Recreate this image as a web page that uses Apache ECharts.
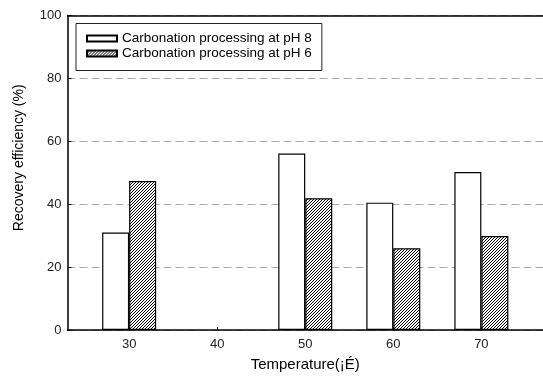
<!DOCTYPE html>
<html>
<head>
<meta charset="utf-8">
<script src="https://cdn.jsdelivr.net/npm/echarts@6/dist/echarts.min.js"></script>
<style>
  html, body { margin: 0; padding: 0; background: #fff; }
  #chart { width: 543px; height: 377px; }
</style>
</head>
<body>
<div id="chart"></div>
<script>
// temperatures on the x axis
const temps = [30, 40, 50, 60, 70];
// recovery efficiency (%), null = no bar
const ph8 = [31.0, null, 56.1, 40.5, 50.2];
const ph6 = [47.4, null, 41.9, 26.0, 29.9];
const yTicks = [0, 20, 40, 60, 80, 100];
const seriesNames = ['Carbonation processing at pH 8', 'Carbonation processing at pH 6'];

const font = 'Liberation Sans, Arial, sans-serif';

// diagonal hatch ////
function hatch() {
    const s = 3;
    const c = document.createElement('canvas');
    c.width = s; c.height = s;
    const ctx = c.getContext('2d');
    ctx.fillStyle = '#fff';
    ctx.fillRect(0, 0, s, s);
    ctx.strokeStyle = '#000';
    ctx.lineWidth = 1;
    ctx.beginPath();
    ctx.moveTo(-1, 1); ctx.lineTo(1, -1);
    ctx.moveTo(0, s); ctx.lineTo(s, 0);
    ctx.moveTo(s - 1, s + 1); ctx.lineTo(s + 1, s - 1);
    ctx.stroke();
    return c;
}

function pairs(vals) {
    const out = [];
    temps.forEach((t, i) => { if (vals[i] != null) out.push([t, vals[i]]); });
    return out;
}

const chart = echarts.init(document.getElementById('chart'));
chart.setOption({
    animation: false,
    grid: { left: 67.5, right: 0, top: 15.5, bottom: 43 },
    legend: {
        left: 76, top: 23.5,
        orient: 'vertical',
        backgroundColor: '#fff',
        borderColor: '#222', borderWidth: 1,
        padding: [8, 10, 10, 10],
        itemWidth: 30, itemHeight: 6, itemGap: 1,
        icon: 'rect',
        textStyle: { fontFamily: font, fontSize: 13.5, color: '#000', lineHeight: 14 },
        data: seriesNames
    },
    xAxis: [{
        type: 'value',
        min: 23, max: 77,
        name: 'Temperature(¡É)',
        nameLocation: 'middle',
        nameGap: 27,
        nameTextStyle: { fontFamily: font, fontSize: 15, color: '#000' },
        axisLine: { lineStyle: { color: '#000', width: 1.5 } },
        axisTick: { inside: true, length: 3, customValues: temps, lineStyle: { color: '#000' } },
        axisLabel: { customValues: temps, fontFamily: font, fontSize: 13, color: '#222', margin: 8 },
        splitLine: { show: false }
    }, {
        type: 'value',
        position: 'top',
        min: 23, max: 77,
        axisLine: { show: true, lineStyle: { color: '#000', width: 1.5 } },
        axisTick: { show: false },
        axisLabel: { show: false },
        splitLine: { show: false }
    }],
    yAxis: {
        type: 'value',
        min: 0, max: 100, interval: 20,
        name: 'Recovery efficiency (%)',
        nameLocation: 'middle',
        nameGap: 41,
        nameTextStyle: { fontFamily: font, fontSize: 14, color: '#000', padding: [0, 0, 0, 30] },
        axisLine: { show: true, lineStyle: { color: '#000', width: 1.5 } },
        axisTick: { show: true, inside: true, length: 4, lineStyle: { color: '#000' } },
        axisLabel: { fontFamily: font, fontSize: 13, color: '#222', margin: 6,
            formatter: v => yTicks.includes(v) ? String(v) : '' },
        splitLine: { show: true, lineStyle: { color: '#aaa', type: [8, 4], width: 1 } }
    },
    series: [{
        name: seriesNames[0],
        type: 'bar',
        barWidth: 27,
        barGap: '0%',
        data: pairs(ph8),
        itemStyle: { color: '#fff', borderColor: '#000', borderWidth: 1.2 }
    }, {
        name: seriesNames[1],
        type: 'bar',
        barWidth: 27,
        barGap: '0%',
        data: pairs(ph6),
        itemStyle: { color: { image: hatch(), repeat: 'repeat' }, borderColor: '#000', borderWidth: 1.2 }
    }]
});
</script>
</body>
</html>
